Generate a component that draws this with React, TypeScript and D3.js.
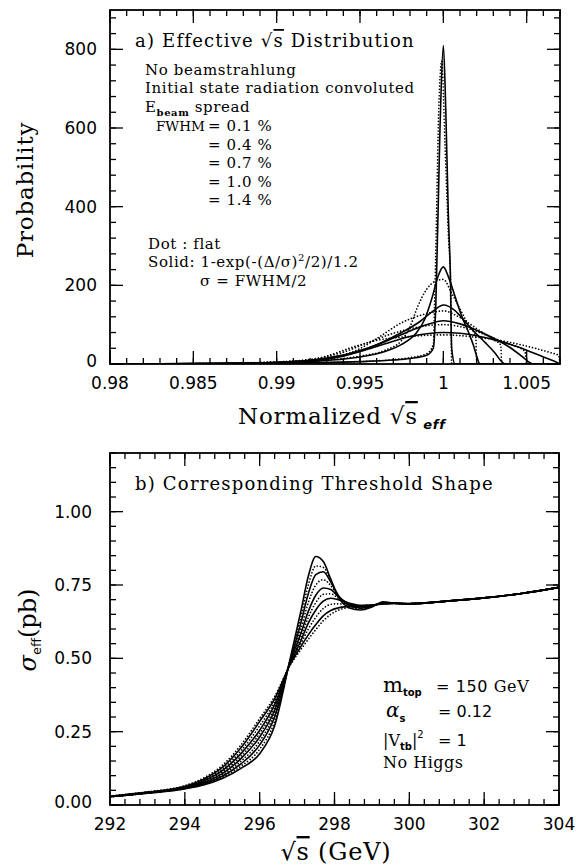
import React from "react";
import * as d3 from "d3";

type Pt = [number, number];

// ---------- Panel a: Effective sqrt(s) distribution ----------
const A_X_DOMAIN = [0.98, 1.007];
const A_Y_DOMAIN = [0, 900];
const A_X_MAJOR = [0.98, 0.985, 0.99, 0.995, 1.0, 1.005];
const A_X_LABELS = ["0.98", "0.985", "0.99", "0.995", "1", "1.005"];
const A_Y_MAJOR = [0, 200, 400, 600, 800];
const A_Y_LABELS = ["0", "200", "400", "600", "800"];
const FWHM_VALUES = ["0.1", "0.4", "0.7", "1.0", "1.4"];

// FWHM = 0.1 %
const aSolid01: Pt[] = [[0.98,0],[0.988,1],[0.992,3],[0.995,6],[0.997,10],[0.998,14],[0.999,22],[0.9994,40],[0.99955,150],[0.9998,600],[1.0,810],[1.00015,640],[1.0003,380],[1.00042,230],[1.0005,40],[1.0007,0],[1.007,0]];
const aDot01: Pt[] = [[0.98,0],[0.988,1],[0.992,3],[0.995,6],[0.997,11],[0.998,16],[0.999,26],[0.9994,50],[0.9995,200],[0.99975,680],[0.9999,770],[1.0001,560],[1.0003,330],[1.00045,190],[1.0005,0],[1.007,0]];
// FWHM = 0.4 %
const aSolid04: Pt[] = [[0.98,0],[0.986,1],[0.99,3],[0.993,9],[0.995,18],[0.9965,32],[0.9975,50],[0.9984,80],[0.9989,115],[0.9993,165],[0.9997,225],[1.0,247],[1.0003,222],[1.0007,172],[1.0011,122],[1.0015,82],[1.0018,48],[1.002,20],[1.0022,0],[1.007,0]];
const aDot04: Pt[] = [[0.98,0],[0.986,1],[0.99,4],[0.993,10],[0.995,20],[0.9965,35],[0.9975,60],[0.998,95],[0.9985,150],[0.999,190],[0.9996,212],[1.0,215],[1.0005,180],[1.001,140],[1.0015,100],[1.00195,68],[1.002,0],[1.007,0]];
// FWHM = 0.7 %
const aSolid07: Pt[] = [[0.98,0],[0.986,1],[0.99,4],[0.993,13],[0.995,33],[0.9962,53],[0.9975,80],[0.9986,108],[0.9994,135],[1.0,150],[1.0007,136],[1.0013,108],[1.0019,80],[1.0025,55],[1.0031,28],[1.0035,6],[1.0037,0],[1.007,0]];
const aDot07: Pt[] = [[0.98,0],[0.986,1],[0.99,5],[0.993,15],[0.9948,35],[0.9962,70],[0.9975,105],[0.999,128],[1.0,135],[1.001,118],[1.002,90],[1.003,62],[1.00345,48],[1.0035,0],[1.007,0]];
// FWHM = 1.0 %
const aSolid10: Pt[] = [[0.98,0],[0.986,1],[0.99,4],[0.9925,12],[0.9945,28],[0.996,48],[0.997,66],[0.998,84],[0.999,100],[1.0,110],[1.001,102],[1.002,86],[1.003,66],[1.004,42],[1.0047,20],[1.0052,3],[1.0054,0],[1.007,0]];
const aDot10: Pt[] = [[0.98,0],[0.986,1],[0.99,5],[0.9925,15],[0.994,30],[0.9955,55],[0.997,78],[0.9985,94],[1.0,100],[1.0015,90],[1.003,66],[1.004,50],[1.0049,32],[1.005,0],[1.007,0]];
// FWHM = 1.4 %
const aSolid14: Pt[] = [[0.98,0],[0.985,1],[0.989,3],[0.992,8],[0.994,20],[0.9955,38],[0.997,58],[0.998,70],[0.999,77],[1.0,80],[1.001,78],[1.002,72],[1.003,62],[1.004,50],[1.005,35],[1.006,18],[1.0066,8],[1.007,0]];
const aDot14: Pt[] = [[0.98,0],[0.985,1],[0.989,4],[0.992,10],[0.993,20],[0.9945,42],[0.996,60],[0.998,70],[1.0,74],[1.002,68],[1.004,55],[1.0055,40],[1.0065,28],[1.00692,22],[1.007,0]];

const A_SOLID = [aSolid01, aSolid04, aSolid07, aSolid10, aSolid14];
const A_DOT = [aDot01, aDot04, aDot07, aDot10, aDot14];

// ---------- Panel b: Threshold shape ----------
const B_X_DOMAIN = [292, 304];
const B_Y_DOMAIN = [0, 1.2];
const B_X_MAJOR = [292, 294, 296, 298, 300, 302, 304];
const B_X_LABELS = ["292", "294", "296", "298", "300", "302", "304"];
const B_Y_MAJOR = [0, 0.25, 0.5, 0.75, 1.0];
const B_Y_LABELS = ["0.00", "0.25", "0.50", "0.75", "1.00"];

const bX = [292, 293, 294, 294.5, 295, 295.5, 296, 296.4, 296.8, 297.1, 297.3, 297.5, 297.7, 297.9, 298.1, 298.4, 298.7, 299, 299.3, 299.6, 300, 301, 302, 303, 304];
const bSolid01 = [0.028,0.040,0.055,0.068,0.090,0.125,0.175,0.27,0.49,0.66,0.78,0.847,0.83,0.77,0.71,0.672,0.665,0.675,0.693,0.688,0.686,0.695,0.706,0.721,0.742];
const bSolid04 = [0.028,0.041,0.057,0.072,0.098,0.14,0.205,0.30,0.485,0.62,0.72,0.785,0.795,0.76,0.715,0.68,0.671,0.678,0.69,0.688,0.686,0.695,0.706,0.721,0.742];
const bSolid07 = [0.029,0.042,0.059,0.077,0.107,0.158,0.232,0.322,0.482,0.585,0.66,0.715,0.74,0.735,0.71,0.685,0.675,0.679,0.688,0.688,0.686,0.695,0.706,0.721,0.742];
const bSolid10 = [0.029,0.043,0.061,0.082,0.117,0.175,0.255,0.342,0.478,0.56,0.62,0.665,0.695,0.705,0.70,0.688,0.68,0.681,0.687,0.688,0.686,0.695,0.706,0.721,0.742];
const bSolid14 = [0.030,0.044,0.064,0.088,0.128,0.195,0.285,0.362,0.475,0.54,0.58,0.615,0.645,0.663,0.672,0.677,0.68,0.682,0.685,0.687,0.687,0.695,0.706,0.721,0.742];
const bDot01 = [0.028,0.040,0.056,0.070,0.094,0.132,0.19,0.285,0.487,0.64,0.75,0.815,0.81,0.765,0.712,0.676,0.668,0.677,0.691,0.688,0.686,0.695,0.706,0.721,0.742];
const bDot04 = [0.028,0.041,0.058,0.075,0.102,0.149,0.218,0.312,0.483,0.60,0.69,0.75,0.768,0.748,0.712,0.682,0.673,0.678,0.689,0.688,0.686,0.695,0.706,0.721,0.742];
const bDot07 = [0.029,0.042,0.060,0.080,0.112,0.166,0.244,0.332,0.48,0.572,0.64,0.69,0.718,0.72,0.705,0.686,0.677,0.68,0.687,0.688,0.686,0.695,0.706,0.721,0.742];
const bDot10 = [0.030,0.043,0.062,0.085,0.122,0.185,0.27,0.352,0.476,0.55,0.60,0.64,0.67,0.684,0.686,0.683,0.68,0.681,0.686,0.687,0.687,0.695,0.706,0.721,0.742];
const bDot14 = [0.031,0.045,0.066,0.092,0.135,0.205,0.295,0.37,0.473,0.53,0.565,0.598,0.628,0.65,0.664,0.674,0.679,0.682,0.685,0.687,0.687,0.695,0.706,0.721,0.742];

const B_SOLID = [bSolid01, bSolid04, bSolid07, bSolid10, bSolid14];
const B_DOT = [bDot01, bDot04, bDot07, bDot10, bDot14];

const serif = "'DejaVu Serif', serif";
const sans = "'DejaVu Sans', sans-serif";

const xA = d3.scaleLinear().domain(A_X_DOMAIN).range([110, 560]);
const yA = d3.scaleLinear().domain(A_Y_DOMAIN).range([364, 10]);
const xB = d3.scaleLinear().domain(B_X_DOMAIN).range([110, 559]);
const yB = d3.scaleLinear().domain(B_Y_DOMAIN).range([805, 453]);

function Frame(props: any) {
  const { xs, ys, xMajor, xMinor, yMajor, yMinor, xLabels, yLabels, yLabelX } = props;
  const [x0, x1] = xs.range();
  const [y0, y1] = ys.range();
  const M = 13, m = 6;
  const st = { stroke: "#000", strokeWidth: 1.3 };
  return (
    <g>
      <rect x={x0} y={y1} width={x1 - x0} height={y0 - y1} fill="none" stroke="#000" strokeWidth={1.8} />
      {xMinor.map((v: number, i: number) => (
        <g key={"xm" + i}>
          <line x1={xs(v)} x2={xs(v)} y1={y0} y2={y0 - m} {...st} />
          <line x1={xs(v)} x2={xs(v)} y1={y1} y2={y1 + m} {...st} />
        </g>
      ))}
      {xMajor.map((v: number, i: number) => (
        <g key={"xM" + i}>
          <line x1={xs(v)} x2={xs(v)} y1={y0} y2={y0 - M} {...st} />
          <line x1={xs(v)} x2={xs(v)} y1={y1} y2={y1 + M} {...st} />
          <text x={xs(v)} y={y0 + 25} textAnchor="middle" fontFamily={sans} fontSize={17}>{xLabels[i]}</text>
        </g>
      ))}
      {yMinor.map((v: number, i: number) => (
        <g key={"ym" + i}>
          <line x1={x0} x2={x0 + m} y1={ys(v)} y2={ys(v)} {...st} />
          <line x1={x1} x2={x1 - m} y1={ys(v)} y2={ys(v)} {...st} />
        </g>
      ))}
      {yMajor.map((v: number, i: number) => (
        <g key={"yM" + i}>
          <line x1={x0} x2={x0 + M} y1={ys(v)} y2={ys(v)} {...st} />
          <line x1={x1} x2={x1 - M} y1={ys(v)} y2={ys(v)} {...st} />
          <text x={yLabelX} y={ys(v) + 6 - (v === 0 ? 3 : 0)} textAnchor="end" fontFamily={sans} fontSize={17}>{yLabels[i]}</text>
        </g>
      ))}
    </g>
  );
}

export default function App() {
  const lineA = d3.line<Pt>().x((d) => xA(d[0])).y((d) => yA(d[1])).curve(d3.curveMonotoneX);
  const lineB = d3.line<number>().x((_, i) => xB(bX[i])).y((d) => yB(d)).curve(d3.curveMonotoneX);

  const aXMinor = d3.range(0, 28).map((i) => 0.98 + i * 0.001);
  const aYMinor = d3.range(0, 23).map((i) => i * 40);
  const bXMinor = d3.range(0, 31).map((i) => 292 + i * 0.4);
  const bYMinor = d3.range(0, 25).map((i) => i * 0.05);

  const solid = { fill: "none", stroke: "#000", strokeWidth: 1.6 };
  const dotted = { fill: "none", stroke: "#000", strokeWidth: 1.7, strokeDasharray: "0.01 3.2", strokeLinecap: "round" as const };

  const tx = { fontFamily: serif, fontSize: 15, letterSpacing: 0.6 };

  return (
    <svg width={576} height={867} style={{ position: "absolute", left: 0, top: 0, background: "#fff" }}>
      <defs>
        <clipPath id="clipA"><rect x={110} y={10} width={450} height={354} /></clipPath>
        <clipPath id="clipB"><rect x={110} y={453} width={449} height={352} /></clipPath>
      </defs>
      <rect width={576} height={867} fill="#fff" />

      {/* Panel a */}
      <g clipPath="url(#clipA)">
        {A_DOT.map((d, i) => <path key={"ad" + i} d={lineA(d) || ""} {...dotted} />)}
        {A_SOLID.map((d, i) => <path key={"as" + i} d={lineA(d) || ""} {...solid} />)}
      </g>
      <Frame xs={xA} ys={yA} xMajor={A_X_MAJOR} xMinor={aXMinor} yMajor={A_Y_MAJOR} yMinor={aYMinor}
        xLabels={A_X_LABELS} yLabels={A_Y_LABELS} yLabelX={97} />

      <text x={135} y={47} fontFamily={serif} fontSize={18} letterSpacing={1.2}>
        a) Effective √<tspan style={{ textDecoration: "overline" }}>s</tspan> Distribution
      </text>
      <text x={145} y={75} {...tx}>No beamstrahlung</text>
      <text x={145} y={93} {...tx}>Initial state radiation convoluted</text>
      <text x={145} y={112} {...tx}>E<tspan fontSize={10} fontWeight="bold" dy={4}>beam</tspan><tspan dy={-4}> spread</tspan></text>
      {FWHM_VALUES.map((s, i) => (
        <text key={"fw" + i} y={131 + i * 18.5} fontFamily={serif} fontSize={15}>
          {i === 0 ? <tspan x={156} fontSize={13.5}>FWHM</tspan> : null}
          <tspan x={208} letterSpacing={0.6}>= {s} %</tspan>
        </text>
      ))}
      <text x={148} y={249} {...tx}>Dot : flat</text>
      <text x={148} y={267} {...tx}>Solid: 1-exp(-(Δ/σ)<tspan fontSize={10} dy={-6}>2</tspan><tspan dy={6}>/2)/1.2</tspan></text>
      <text x={200} y={286} {...tx}>σ = FWHM/2</text>

      <text transform="translate(33,190) rotate(-90)" textAnchor="middle" fontFamily={serif} fontSize={23} letterSpacing={0.8}>Probability</text>
      <text x={238} y={424} fontFamily={serif} fontSize={23} letterSpacing={0.8}>
        Normalized √<tspan style={{ textDecoration: "overline" }}>s</tspan><tspan fontFamily={sans} fontWeight="bold" fontStyle="italic" fontSize={13} dy={5}> eff</tspan>
      </text>

      {/* Panel b */}
      <g clipPath="url(#clipB)">
        {B_DOT.map((d, i) => <path key={"bd" + i} d={lineB(d) || ""} {...dotted} />)}
        {B_SOLID.map((d, i) => <path key={"bs" + i} d={lineB(d) || ""} {...solid} />)}
      </g>
      <Frame xs={xB} ys={yB} xMajor={B_X_MAJOR} xMinor={bXMinor} yMajor={B_Y_MAJOR} yMinor={bYMinor}
        xLabels={B_X_LABELS} yLabels={B_Y_LABELS} yLabelX={92} />

      <text x={135} y={490} fontFamily={serif} fontSize={18} letterSpacing={1.2}>b) Corresponding Threshold Shape</text>

      <text x={383} y={692} fontFamily={serif} fontSize={16}>
        <tspan fontSize={21}>m</tspan><tspan fontFamily={sans} fontWeight="bold" fontSize={10} dy={4}>top</tspan>
      </text>
      <text x={436} y={692} fontFamily={serif} fontSize={16} letterSpacing={0.6}>= <tspan fontFamily={sans}>150</tspan> GeV</text>
      <text x={386} y={717} fontFamily={serif} fontStyle="italic" fontSize={20}>α<tspan fontFamily={sans} fontStyle="normal" fontWeight="bold" fontSize={10} dy={5}>s</tspan></text>
      <text x={438} y={717} fontFamily={serif} fontSize={16}>= <tspan fontFamily={sans}>0.12</tspan></text>
      <text x={383} y={746} fontFamily={serif} fontSize={16}>|V<tspan fontFamily={sans} fontWeight="bold" fontSize={10} dy={4}>tb</tspan><tspan dy={-4}>|</tspan><tspan fontFamily={sans} fontSize={10} dy={-8}>2</tspan></text>
      <text x={438} y={746} fontFamily={serif} fontSize={16}>= <tspan fontFamily={sans}>1</tspan></text>
      <text x={383} y={768} fontFamily={serif} fontSize={16} letterSpacing={0.5}>No Higgs</text>

      <text transform="translate(36,630) rotate(-90)" textAnchor="middle" fontFamily={serif} fontSize={24}>
        <tspan fontStyle="italic">σ</tspan><tspan fontFamily={sans} fontSize={13} dy={5}>eff</tspan><tspan dy={-5}>(pb)</tspan>
      </text>
      <text x={336} y={860} textAnchor="middle" fontFamily={serif} fontSize={24} letterSpacing={0.8}>
        √<tspan style={{ textDecoration: "overline" }}>s</tspan>  (GeV)
      </text>
    </svg>
  );
}
